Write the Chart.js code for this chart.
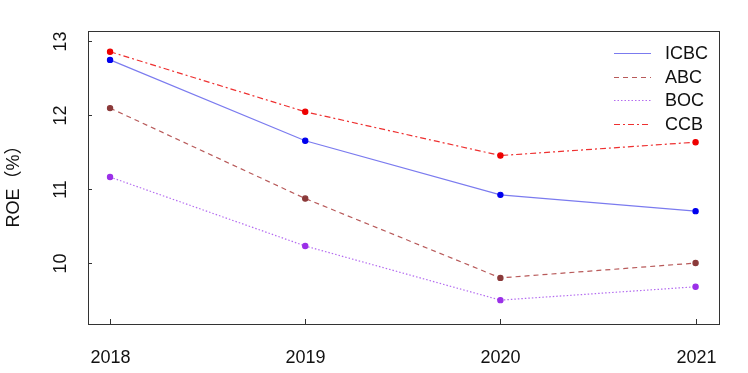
<!DOCTYPE html>
<html>
<head>
<meta charset="utf-8">
<script src="https://cdn.jsdelivr.net/npm/chart.js@4.4.0/dist/chart.umd.min.js"></script>
<style>
  html, body { margin: 0; padding: 0; background: #fff; }
  #wrap { width: 748px; height: 373px; }
</style>
</head>
<body>
<div id="wrap"><canvas id="roeChart"></canvas></div>
<script>
const years = [2018, 2019, 2020, 2021];
const icbc = [12.74, 11.65, 10.92, 10.70];
const abc = [12.09, 10.87, 9.80, 10.00];
const boc = [11.16, 10.23, 9.50, 9.68];
const ccb = [12.85, 12.04, 11.45, 11.63];
const yTicks = [10, 11, 12, 13];
const yTitle = 'ROE（%）';

const FONT = '"Liberation Sans", Arial, "Noto Sans CJK SC", sans-serif';

function series(label, values, lineColor, pointColor, dash) {
  return {
    label: label,
    data: values.map((v, i) => ({ x: years[i], y: v })),
    borderColor: lineColor,
    backgroundColor: pointColor,
    pointBackgroundColor: pointColor,
    pointBorderColor: pointColor,
    pointRadius: 2.6,
    pointHoverRadius: 2.6,
    borderWidth: 1.2,
    borderDash: dash,
    tension: 0,
    fill: false
  };
}

// draws the R-style frame, ticks, labels and legend
const baseAxes = {
  id: 'baseAxes',
  afterDraw(chart) {
    const ctx = chart.ctx;
    const a = chart.chartArea;
    const xs = chart.scales.x, ys = chart.scales.y;
    ctx.save();
    ctx.strokeStyle = '#333';
    ctx.lineWidth = 1;
    ctx.strokeRect(Math.round(a.left) + 0.5, Math.round(a.top) + 0.5, Math.round(a.right - a.left), Math.round(a.bottom - a.top));

    ctx.fillStyle = '#111';
    ctx.font = '18px ' + FONT;
    ctx.textAlign = 'center';
    ctx.textBaseline = 'middle';
    years.forEach(yr => {
      const px = Math.round(xs.getPixelForValue(yr)) + 0.5;
      ctx.beginPath();
      ctx.moveTo(px, a.bottom);
      ctx.lineTo(px, a.bottom - 5);
      ctx.stroke();
      ctx.fillText(String(yr), px, 358);
    });
    yTicks.forEach(v => {
      const py = Math.round(ys.getPixelForValue(v)) + 0.5;
      ctx.beginPath();
      ctx.moveTo(a.left, py);
      ctx.lineTo(a.left + 4, py);
      ctx.stroke();
      ctx.save();
      ctx.translate(61, py);
      ctx.rotate(-Math.PI / 2);
      ctx.fillText(String(v), 0, 0);
      ctx.restore();
    });
    ctx.save();
    ctx.translate(14, 182);
    ctx.rotate(-Math.PI / 2);
    ctx.fillText(yTitle, 0, 0);
    ctx.restore();

    // legend
    chart.data.datasets.forEach((ds, i) => {
      const y = Math.round(53 + i * 23.5) + 0.5;
      ctx.strokeStyle = ds.borderColor;
      ctx.lineWidth = ds.borderWidth;
      ctx.setLineDash(ds.borderDash || []);
      ctx.beginPath();
      ctx.moveTo(614, y);
      ctx.lineTo(651, y);
      ctx.stroke();
      ctx.setLineDash([]);
      ctx.fillStyle = '#111';
      ctx.textAlign = 'left';
      ctx.fillText(ds.label, 665, y + 1);
    });
    ctx.restore();
  }
};

new Chart(document.getElementById('roeChart'), {
  type: 'line',
  data: {
    datasets: [
      series('ICBC', icbc, '#7b7bef', '#0000ee', []),
      series('ABC', abc, '#b85a5a', '#8b3a3a', [5, 4]),
      series('BOC', boc, '#b46cf0', '#9b30e8', [1.5, 2]),
      series('CCB', ccb, '#ee3030', '#ee0000', [6, 3, 2, 3])
    ]
  },
  options: {
    responsive: true,
    maintainAspectRatio: false,
    animation: false,
    layout: { padding: { left: 88, right: 29, top: 31, bottom: 49 } },
    plugins: {
      legend: { display: false },
      tooltip: { enabled: false }
    },
    scales: {
      x: { type: 'linear', display: false, min: 2017.887, max: 2021.12 },
      y: { type: 'linear', display: false, min: 9.178, max: 13.13 }
    }
  },
  plugins: [baseAxes]
});
</script>
</body>
</html>
